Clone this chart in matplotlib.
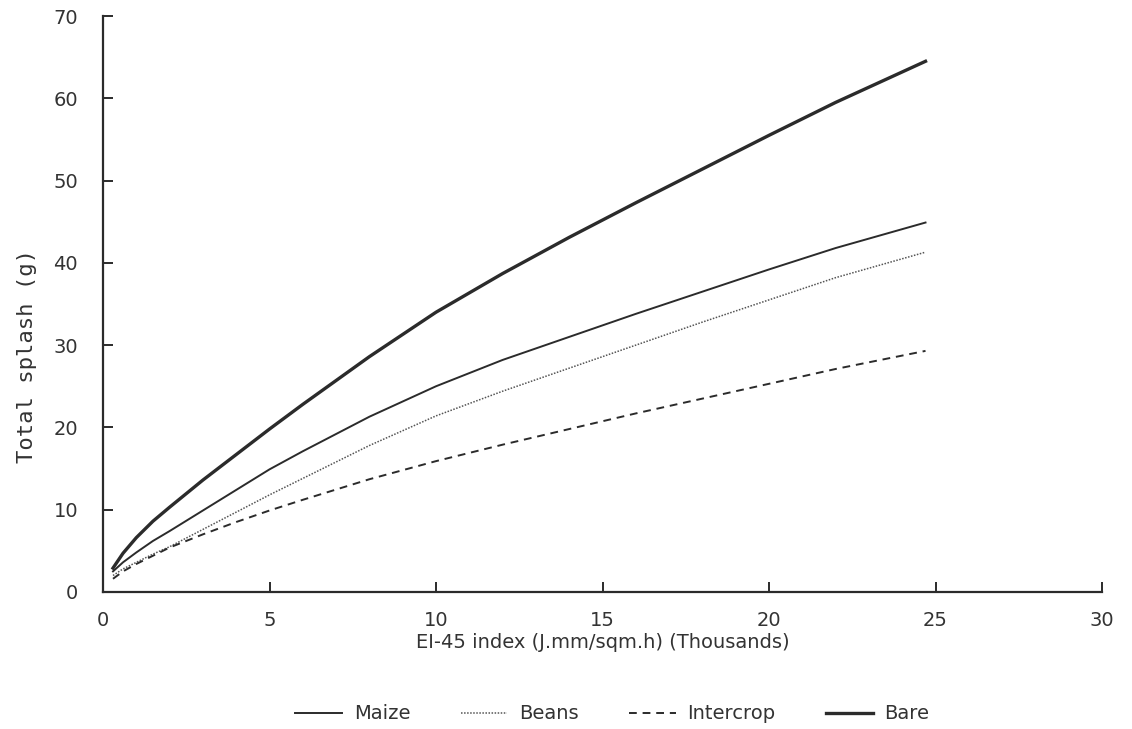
import numpy as np
import matplotlib.pyplot as plt

# EI-45 index (thousands)
ei = [0.3, 0.6, 1, 1.5, 2, 3, 4, 5, 6, 8, 10, 12, 14, 16, 18, 20, 22, 24.7]

# total splash (g)
maize = [2.5, 3.6, 4.8, 6.2, 7.4, 9.9, 12.4, 14.9, 17.1, 21.3, 25.0, 28.2, 31.0, 33.8, 36.5, 39.2, 41.8, 44.9]
beans = [2.0, 2.8, 3.6, 4.6, 5.5, 7.6, 9.7, 11.8, 13.8, 17.8, 21.4, 24.4, 27.2, 30.0, 32.8, 35.5, 38.2, 41.3]
intercrop = [1.6, 2.5, 3.4, 4.4, 5.4, 7.0, 8.5, 9.9, 11.2, 13.7, 15.9, 17.9, 19.8, 21.7, 23.5, 25.3, 27.1, 29.3]
bare = [2.9, 4.7, 6.6, 8.6, 10.3, 13.6, 16.7, 19.8, 22.8, 28.6, 34.0, 38.7, 43.1, 47.3, 51.4, 55.5, 59.5, 64.5]

xticks = [0, 5, 10, 15, 20, 25, 30]
yticks = [0, 10, 20, 30, 40, 50, 60, 70]

ink = '#2b2b2b'

fig = plt.figure(figsize=(11.32, 7.29), dpi=100)
ax = fig.add_axes([0.091, 0.188, 0.8825, 0.79])

ax.plot(ei, maize, color=ink, lw=1.4, label='Maize')
ax.plot(ei, beans, color='#555555', lw=1.1, ls=(0, (1, 1)), label='Beans')
ax.plot(ei, intercrop, color=ink, lw=1.4, ls=(0, (4, 3)), label='Intercrop')
ax.plot(ei, bare, color=ink, lw=2.4, label='Bare')

ax.set_xlim(0, 30)
ax.set_ylim(0, 70)
ax.set_xticks(xticks)
ax.set_yticks(yticks)
ax.spines['top'].set_visible(False)
ax.spines['right'].set_visible(False)
for s in ['left', 'bottom']:
    ax.spines[s].set_color(ink)
    ax.spines[s].set_linewidth(1.6)
ax.tick_params(direction='in', length=7, width=1.4, color=ink,
               labelsize=14, labelcolor='#333333', pad=14)
ax.tick_params(axis='y', pad=18)

ax.set_xlabel('EI-45 index (J.mm/sqm.h) (Thousands)', fontsize=14, color='#333333', labelpad=2)
ax.set_ylabel('Total splash (g)', fontsize=16, color='#333333', family='DejaVu Sans Mono')
ax.yaxis.set_label_coords(-0.066, 0.41)

ax.legend(loc='upper center', bbox_to_anchor=(0.51, -0.165), ncol=4, frameon=False,
          fontsize=14, handlelength=2.4, columnspacing=2.6, handletextpad=0.6,
          labelcolor='#333333')

fig.savefig('out.png', dpi=100, facecolor='white')
